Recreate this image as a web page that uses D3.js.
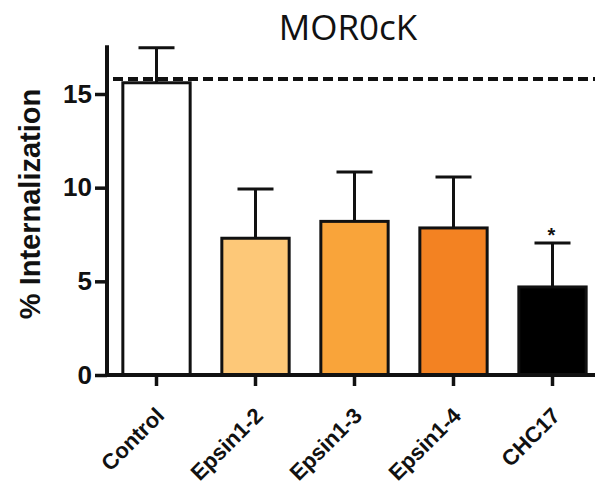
<!DOCTYPE html>
<html>
<head>
<meta charset="utf-8">
<script src="https://cdn.jsdelivr.net/npm/d3@7"></script>
<style>
  html, body { margin: 0; padding: 0; background: #fff; }
  svg { display: block; }
</style>
</head>
<body>
<svg id="chart" width="595" height="486"></svg>
<script>
// Internalization of MOR0cK after knockdown
const categories = ["Control", "Epsin1-2", "Epsin1-3", "Epsin1-4", "CHC17"];
const means      = [15.6, 7.3, 8.2, 7.85, 4.7];
const sems       = [1.87, 2.63, 2.64, 2.72, 2.35];
const fills      = ["#ffffff", "#fdc878", "#f9a43a", "#f38222", "#000000"];
const significant = [false, false, false, false, true];
const yTicks     = [0, 5, 10, 15];
const controlRef = 15.8;

const svg = d3.select("#chart");
const x0 = 107, yBase = 375;

const y = d3.scaleLinear().domain([0, 15]).range([yBase, 94]);
const x = d3.scaleBand().domain(categories).range([x0, 602])
  .paddingInner(0.32).paddingOuter(0.16);

// title
svg.append("text")
  .attr("x", 348).attr("y", 40)
  .attr("text-anchor", "middle")
  .attr("font-family", "'Open Sans', sans-serif")
  .attr("font-size", 35)
  .attr("fill", "#111")
  .text("MOR0cK");

// y label
svg.append("text")
  .attr("transform", `translate(40,${204}) rotate(-90)`)
  .attr("text-anchor", "middle")
  .attr("font-family", "'Liberation Sans', Arial, sans-serif")
  .attr("font-weight", "bold")
  .attr("font-size", 29)
  .attr("fill", "#111")
  .text("% Internalization");

// y axis
const yAxis = d3.axisLeft(y).tickValues(yTicks).tickSize(12).tickPadding(3);
const gy = svg.append("g").attr("transform", `translate(${x0},0)`).call(yAxis);
gy.select(".domain").remove();
gy.selectAll(".tick line").attr("stroke", "#111").attr("stroke-width", 3.5);
gy.selectAll(".tick text")
  .attr("font-family", "'Liberation Sans', Arial, sans-serif")
  .attr("font-weight", "bold")
  .attr("font-size", 26)
  .attr("fill", "#111");
svg.append("line")
  .attr("x1", x0).attr("x2", x0)
  .attr("y1", y(17.6)).attr("y2", yBase + 1.5)
  .attr("stroke", "#111").attr("stroke-width", 4);

// bars
const bars = svg.append("g");
bars.selectAll("rect").data(categories).join("rect")
  .attr("x", d => x(d))
  .attr("y", (d, i) => y(means[i]))
  .attr("width", x.bandwidth())
  .attr("height", (d, i) => yBase - y(means[i]))
  .attr("fill", (d, i) => fills[i])
  .attr("stroke", "#111")
  .attr("stroke-width", 3);

// error bars (upper only)
const err = svg.append("g").attr("stroke", "#111").attr("stroke-width", 3);
categories.forEach((c, i) => {
  const cx = x(c) + x.bandwidth() / 2;
  err.append("line").attr("x1", cx).attr("x2", cx)
    .attr("y1", y(means[i])).attr("y2", y(means[i] + sems[i]));
  err.append("line").attr("x1", cx - 18).attr("x2", cx + 18)
    .attr("y1", y(means[i] + sems[i])).attr("y2", y(means[i] + sems[i]));
  if (significant[i]) {
    svg.append("text")
      .attr("x", cx - 1).attr("y", y(means[i] + sems[i]) - 1)
      .attr("text-anchor", "middle")
      .attr("font-family", "'Liberation Sans', Arial, sans-serif")
      .attr("font-weight", "bold")
      .attr("font-size", 20)
      .attr("fill", "#111")
      .text("*");
  }
});

// x axis baseline + ticks + labels
const xAxis = d3.axisBottom(x).tickSize(11).tickPadding(0).tickSizeOuter(0);
const gx = svg.append("g").attr("transform", `translate(0,${yBase})`).call(xAxis);
gx.select(".domain").remove();
gx.selectAll(".tick line").attr("stroke", "#111").attr("stroke-width", 3.5);
gx.selectAll(".tick text")
  .attr("font-family", "'Liberation Sans', Arial, sans-serif")
  .attr("font-weight", "bold")
  .attr("font-size", 22)
  .attr("fill", "#111")
  .attr("text-anchor", "end")
  .attr("x", 0).attr("y", 0).attr("dy", 0)
  .attr("transform", "translate(9,42) rotate(-45)");
svg.append("line")
  .attr("x1", x0 - 2).attr("x2", 595)
  .attr("y1", yBase).attr("y2", yBase)
  .attr("stroke", "#111").attr("stroke-width", 4);

// control reference line
svg.append("line")
  .attr("x1", 113).attr("x2", 595)
  .attr("y1", y(controlRef)).attr("y2", y(controlRef))
  .attr("stroke", "#111").attr("stroke-width", 4)
  .attr("stroke-dasharray", "10,5");
</script>
</body>
</html>
